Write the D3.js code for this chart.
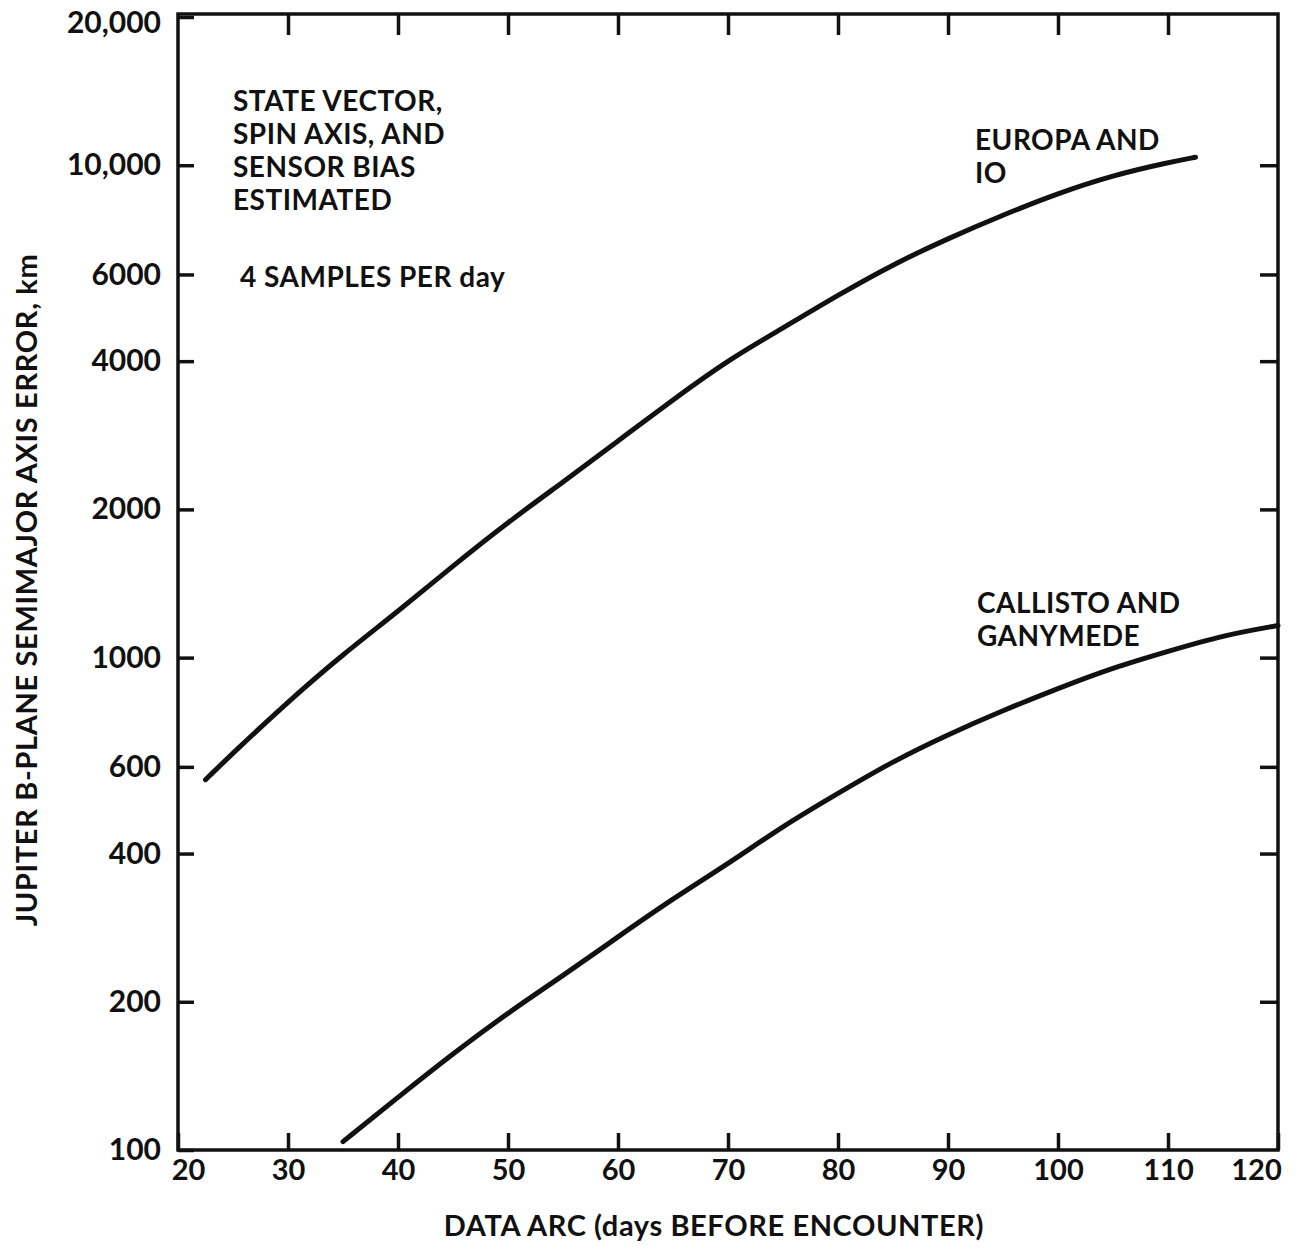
<!DOCTYPE html>
<html>
<head>
<meta charset="utf-8">
<script src="https://cdn.jsdelivr.net/npm/d3@7"></script>
<style>
  body { margin: 0; background: #fff; }
  text { font-family: Lato, "Open Sans", sans-serif; fill: #111; }
</style>
</head>
<body>
<div id="chart"></div>
<script>
// Data (days before encounter vs. error, km)
const europaDays = [22.5, 25, 30, 35, 40, 45, 50, 55, 60, 65, 70, 75, 80, 85, 90, 95, 100, 105, 110, 112.5];
const europaError = [565, 640, 814, 1016, 1241, 1536, 1884, 2272, 2753, 3340, 4020, 4670, 5450, 6290, 7100, 7925, 8770, 9540, 10124, 10380];

const callistoDays = [35, 40, 45, 50, 55, 60, 65, 70, 75, 80, 85, 90, 95, 100, 105, 110, 115, 120];
const callistoError = [104, 128, 157, 190, 226, 271, 324, 381, 455, 530, 616, 698, 781, 866, 954, 1030, 1110, 1162];

const xTicks = [20, 30, 40, 50, 60, 70, 80, 90, 100, 110, 120];
const yTicks = [100, 200, 400, 600, 1000, 2000, 4000, 6000, 10000, 20000];
const yTickLabels = ["100", "200", "400", "600", "1000", "2000", "4000", "6000", "10,000", "20,000"];

const width = 1300;
const height = 1254;

const x = d3.scaleLinear().domain([20, 120]).range([178, 1278]);
const y = d3.scaleLog().domain([100, 20000]).range([1150, 17]);

const svg = d3.select("#chart")
  .append("svg")
  .attr("width", width)
  .attr("height", height);

// Frame
svg.append("rect")
  .attr("x", x(20))
  .attr("y", y(20000) - 3)
  .attr("width", x(120) - x(20))
  .attr("height", y(100) - y(20000) + 3)
  .attr("fill", "none")
  .attr("stroke", "#111")
  .attr("stroke-width", 3.5);

// Axes - ticks point inward on all four sides
const left = svg.append("g")
  .attr("transform", `translate(${x(20)},0)`)
  .call(d3.axisLeft(y).tickValues(yTicks)
    .tickFormat((d, i) => yTickLabels[i])
    .tickSizeInner(-16).tickSizeOuter(0).tickPadding(17));

const bottom = svg.append("g")
  .attr("transform", `translate(0,${y(100)})`)
  .call(d3.axisBottom(x).tickValues(xTicks)
    .tickSizeInner(-17).tickSizeOuter(0).tickPadding(9));

svg.append("g")
  .attr("transform", `translate(0,${y(20000) - 3})`)
  .call(d3.axisTop(x).tickValues(xTicks.slice(1, -1))
    .tickSizeInner(-21).tickSizeOuter(0).tickFormat(""));

svg.append("g")
  .attr("transform", `translate(${x(120)},0)`)
  .call(d3.axisRight(y).tickValues(yTicks.slice(1, -1))
    .tickSizeInner(-18).tickSizeOuter(0).tickFormat(""));

svg.selectAll(".domain").remove();
svg.selectAll(".tick line")
  .attr("stroke", "#111")
  .attr("stroke-width", 3.5);

left.selectAll(".tick text")
  .attr("font-size", 30)
  .attr("font-weight", 700)
  .attr("font-family", "Lato, sans-serif")
  .attr("fill", "#111")
  .attr("y", d => d === 20000 ? 6 : 0);

bottom.selectAll(".tick text")
  .attr("font-size", 29)
  .attr("font-weight", 700)
  .attr("font-family", "Lato, sans-serif")
  .attr("fill", "#111")
  .attr("dx", d => d === 20 ? 10 : d === 120 ? -22 : 0);

// Curves
const line = d3.line()
  .x(d => x(d[0]))
  .y(d => y(d[1]))
  .curve(d3.curveBasis);

const series = [
  d3.zip(europaDays, europaError),
  d3.zip(callistoDays, callistoError)
];

svg.selectAll("path.curve")
  .data(series)
  .join("path")
  .attr("class", "curve")
  .attr("d", line)
  .attr("fill", "none")
  .attr("stroke", "#111")
  .attr("stroke-width", 5)
  .attr("stroke-linecap", "round");

// Annotations
const notes = [
  { t: "STATE VECTOR,", x: 233, y: 111 },
  { t: "SPIN AXIS, AND", x: 233, y: 144 },
  { t: "SENSOR BIAS", x: 233, y: 177 },
  { t: "ESTIMATED", x: 233, y: 210 },
  { t: "4 SAMPLES PER day", x: 240, y: 287 },
  { t: "EUROPA AND", x: 975, y: 150 },
  { t: "IO", x: 975, y: 183 },
  { t: "CALLISTO AND", x: 977, y: 613 },
  { t: "GANYMEDE", x: 977, y: 646 }
];

svg.selectAll("text.note")
  .data(notes)
  .join("text")
  .attr("class", "note")
  .attr("x", d => d.x)
  .attr("y", d => d.y)
  .attr("font-size", 28)
  .attr("font-weight", 700)
  .attr("letter-spacing", 0.5)
  .text(d => d.t);

// Axis titles
svg.append("text")
  .attr("x", 714)
  .attr("y", 1236)
  .attr("text-anchor", "middle")
  .attr("font-size", 29)
  .attr("font-weight", 700)
  .attr("letter-spacing", 0.6)
  .text("DATA ARC (days BEFORE ENCOUNTER)");

svg.append("text")
  .attr("transform", "translate(37,590) rotate(-90)")
  .attr("text-anchor", "middle")
  .attr("font-size", 29)
  .attr("font-weight", 700)
  .attr("letter-spacing", 0.65)
  .text("JUPITER B-PLANE SEMIMAJOR AXIS ERROR, km");
</script>
</body>
</html>
